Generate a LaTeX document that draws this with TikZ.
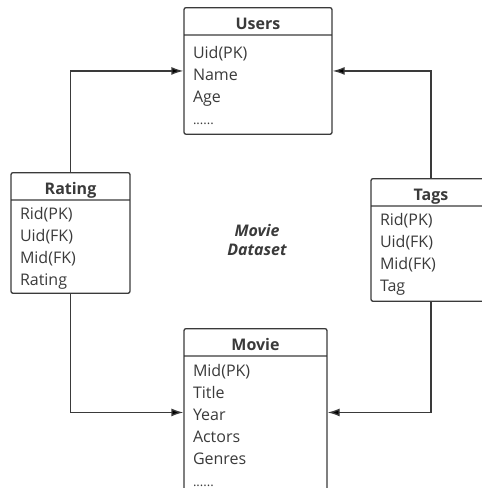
\documentclass[tikz,border=0pt]{standalone}
\usepackage{fontspec}
\setmainfont{Open Sans}
\usetikzlibrary{shapes.multipart,arrows.meta}
\definecolor{ink}{HTML}{3A3A3A}
% struts for the table rows
\newcommand\head[1]{\hspace*{\fill}\textbf{#1}\hspace*{\fill}\rule[-5pt]{0pt}{26pt}}
\newcommand\first[1][23]{\rule{0pt}{#1pt}}
\newcommand\last[1][9]{\rule[-#1pt]{0pt}{#1pt}}
\newcommand\more{{\fontsize{13}{22}\selectfont......}}
\begin{document}
\begin{tikzpicture}[x=1pt,y=-1pt,line width=1.3pt,
  entity/.style={rectangle split,rectangle split parts=2,draw=ink,text=ink,
    rounded corners=2pt,inner xsep=9pt,inner ysep=0pt,align=left,anchor=north,
    font=\fontsize{16}{22}\selectfont},
  link/.style={draw=ink,-{Latex[length=12pt,width=8pt]}}]
  \useasboundingbox (0,0) rectangle (482,488);
  % the four tables
  \node[entity,text width=130pt] (users) at (258,7)
    {\head{Users}\nodepart{two}\first Uid(PK)\\Name\\Age\\\more\last};
  \node[entity,text width=101pt] (rating) at (70.5,172)
    {\head{Rating}\nodepart{two}\first[19]Rid(PK)\\Uid(FK)\\Mid(FK)\\Rating\last[7]};
  \node[entity,text width=102pt] (tags) at (431,178)
    {\head{Tags}\nodepart{two}\first[19]Rid(PK)\\Uid(FK)\\Mid(FK)\\Tag\last};
  \node[entity,text width=125pt] (movie) at (255.5,328)
    {\head{Movie}\nodepart{two}\first[20]Mid(PK)\\Title\\Year\\Actors\\Genres\\\more\last};
  \node[text=ink,align=center,font=\fontsize{16}{19}\selectfont\bfseries\itshape]
    (dataset) at (257,240) {Movie\\Dataset};
  % links
  \draw[link] (rating) |- (users);
  \draw[link] (tags) |- (users);
  \draw[link] (rating) |- (movie);
  \draw[link] (tags) |- (movie);
\end{tikzpicture}
\end{document}
